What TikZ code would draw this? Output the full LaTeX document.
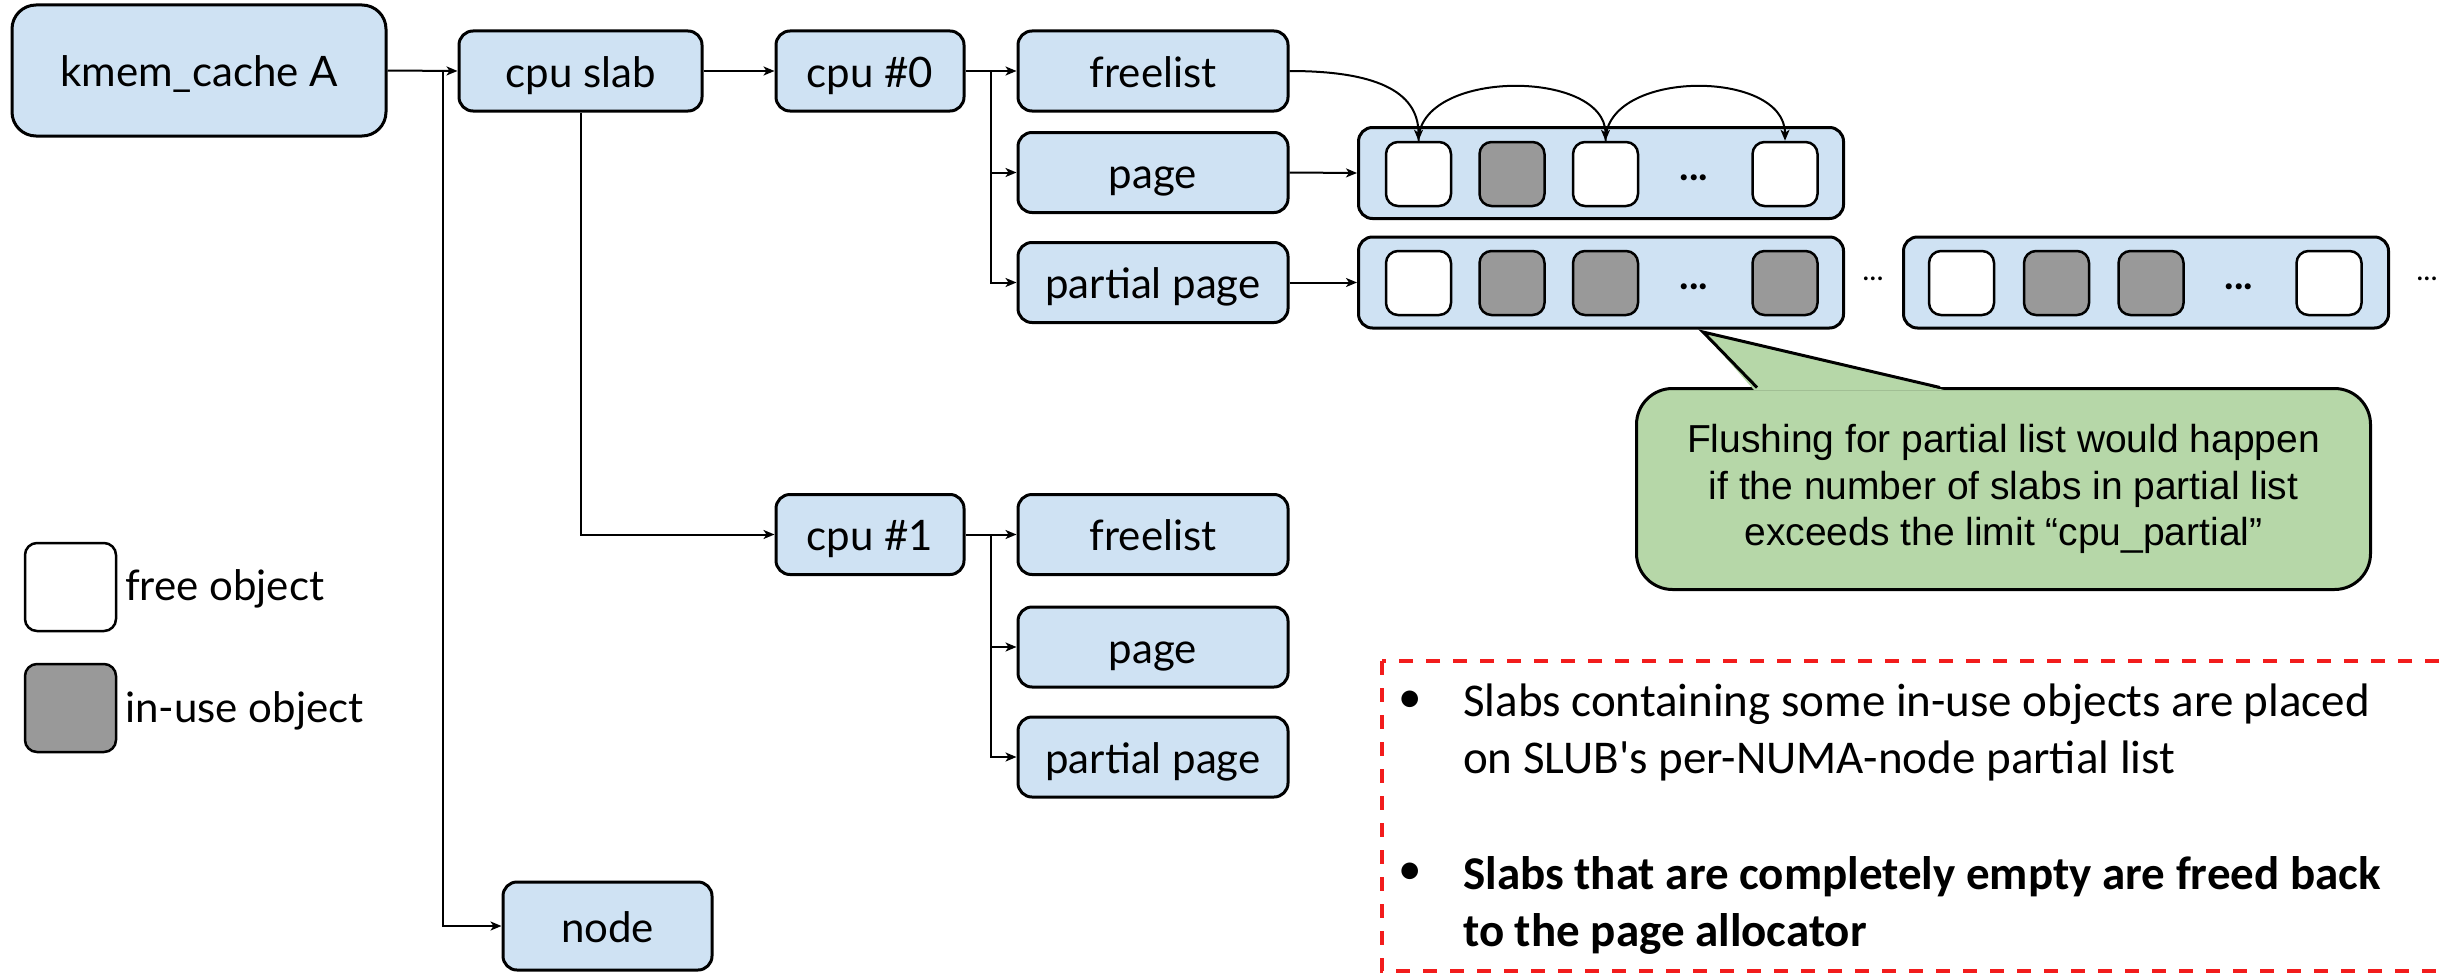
\documentclass[tikz,border=0pt]{standalone}
\usepackage{fontspec}
\usetikzlibrary{arrows.meta}
\newfontfamily\boxfont{Lato}
\newfontfamily\callfont{Liberation Sans}
\newfontfamily\bulfont[Ligatures=ResetAll]{Carlito}
\definecolor{boxblue}{HTML}{CFE2F3}
\definecolor{objgray}{HTML}{999999}
\definecolor{callgreen}{HTML}{B6D7A8}
\definecolor{dashred}{HTML}{F21C1C}
\begin{document}
\begin{tikzpicture}[x=1pt,y=-1pt,
  blk/.style={draw=black, line width=3pt, fill=boxblue, rounded corners=14pt, inner sep=0pt,
    text height=40pt, text depth=8pt,
    font=\boxfont\fontsize{42}{50}\selectfont},
  cont/.style={draw=black, line width=3pt, fill=boxblue, rounded corners=14pt, inner sep=0pt,
    minimum width=485pt, minimum height=91pt},
  obj/.style={draw=black, line width=2.5pt, rounded corners=12pt, inner sep=0pt,
    minimum width=65pt, minimum height=64pt},
  dotsl/.style={inner sep=0pt, font=\boxfont\bfseries\fontsize{40}{48}\selectfont},
  conn/.style={draw=black, line width=2pt},
  arr/.style={conn, -{Stealth[length=11pt,width=9pt,inset=3pt]}},
  lbl/.style={inner sep=0pt, font=\boxfont\fontsize{42}{50}\selectfont},
]
\useasboundingbox (0,0) rectangle (2448,974);

% main boxes
\node[blk, minimum width=374pt, minimum height=131pt, rounded corners=24pt] (kmem) at (199,70.5) {kmem\_cache A};
\node[blk, minimum width=243pt, minimum height=80pt] (cpuslab) at (580.5,71) {cpu slab};
\node[blk, minimum width=188pt, minimum height=80pt] (cpu0) at (870,71) {cpu \#0};
\node[blk, minimum width=270pt, minimum height=80pt] (fl0) at (1153,71) {freelist};
\node[blk, minimum width=270pt, minimum height=80pt] (pg0) at (1153,172.5) {page};
\node[blk, minimum width=270pt, minimum height=80pt] (pp0) at (1153,282.5) {partial page};
\node[blk, minimum width=188pt, minimum height=80pt] (cpu1) at (870,534.5) {cpu \#1};
\node[blk, minimum width=270pt, minimum height=80pt] (fl1) at (1153,534.5) {freelist};
\node[blk, minimum width=270pt, minimum height=80pt] (pg1) at (1153,647) {page};
\node[blk, minimum width=270pt, minimum height=80pt] (pp1) at (1153,757) {partial page};
\node[blk, minimum width=209pt, minimum height=88pt] (nodebox) at (607.5,926) {node};

% slab containers
\node[cont] (cpage) at (1601,173) {};
\node[cont] (cpart1) at (1601,282.5) {};
\node[cont] (cpart2) at (2146,282.5) {};

\foreach \i/\x/\f in {1/1418.5/white, 2/1512/objgray, 3/1605.5/white, 5/1785/white}
  \node[obj, fill=\f] (pa\i) at (\x,174) {};
\node[dotsl] (pad) at (1694,178) {...};

\foreach \i/\x/\f in {1/1418.5/white, 2/1512/objgray, 3/1605.5/objgray, 5/1785/objgray}
  \node[obj, fill=\f] (pb\i) at (\x,283) {};
\node[dotsl] (pbd) at (1694,287) {...};

\foreach \i/\x/\f in {1/1961.5/white, 2/2056.5/objgray, 3/2151/objgray, 5/2329/white}
  \node[obj, fill=\f] (pc\i) at (\x,283) {};
\node[dotsl] (pcd) at (2239,287) {...};

\node[inner sep=0pt, font=\boxfont\fontsize{30}{36}\selectfont] (mid1) at (1873,279) {...};
\node[inner sep=0pt, font=\boxfont\fontsize{30}{36}\selectfont] (mid2) at (2427,279) {...};

% connectors
\coordinate (j0) at (443,71);
\draw[arr] (kmem.east) -- (cpuslab.west);
\draw[arr] (j0) |- (nodebox.west);
\draw[arr] (cpuslab.east) -- (cpu0.west);
\draw[arr] (cpuslab.south) |- (cpu1.west);

\coordinate (b0) at (991,71);
\draw[arr] (cpu0.east) -- (fl0.west);
\draw[arr] (b0) |- (pg0.west);
\draw[arr] (b0) |- (pp0.west);

\coordinate (b1) at (991,534.5);
\draw[arr] (cpu1.east) -- (fl1.west);
\draw[arr] (b1) |- (pg1.west);
\draw[arr] (b1) |- (pp1.west);

\draw[arr] (pg0.east) -- (cpage.west);
\draw[arr] (pp0.east) -- (cpart1.west);

% freelist chain
\draw[arr] (fl0.east) .. controls +(85,0) and +(0,-50) .. (pa1.north);
\draw[arr] (pa1.north) .. controls +(0,-72) and +(0,-72) .. (pa3.north);
\draw[arr] (pa3.north) .. controls +(0,-72) and +(0,-72) .. (pa5.north);

% legend
\node[obj, fill=white, minimum width=91pt, minimum height=88pt] (legfree) at (70.5,587) {};
\node[obj, fill=objgray, minimum width=91pt, minimum height=88pt] (leguse) at (70.5,708) {};
\node[lbl, anchor=base west] (legfreet) at (125,600) {free object};
\node[lbl, anchor=base west] (leguset) at (125,722) {in-use object};

% callout
\node[draw=black, line width=3pt, fill=callgreen, rounded corners=36pt, inner sep=0pt,
  minimum width=734pt, minimum height=201pt, align=center,
  font=\callfont\fontsize{39}{46.5}\selectfont] (callout) at (2003.5,489)
  {Flushing for partial list would happen\\if the number of slabs in partial list\\exceeds the limit “cpu\_partial”};
\fill[callgreen] (1754,390) -- (1703,332) -- (1944,390) -- cycle;
\draw[line width=3pt, line join=miter] (1757,387.5) -- (1703,332) -- (1940,387.5);

% note box
\draw[dashred, line width=4pt, dash pattern=on 14pt off 13pt] (1382,661) rectangle (2478,971);
\node[inner sep=0pt, font=\bulfont\fontsize{47}{57}\selectfont] (bul1) at (1410,702) {•};
\node[inner sep=0pt, font=\bulfont\fontsize{47}{57}\selectfont] (bul2) at (1410,874) {•};
\node[inner sep=0pt, anchor=base west, align=left, font=\bulfont\fontsize{47}{57}\selectfont] (note1) at (1463,773)
  {Slabs containing some in-use objects are placed\\on SLUB's per-NUMA-node partial list};
\node[inner sep=0pt, anchor=base west, align=left, font=\bulfont\bfseries\fontsize{47}{57}\selectfont] (note2) at (1463,946)
  {Slabs that are completely empty are freed back\\to the page allocator};
\end{tikzpicture}
\end{document}
